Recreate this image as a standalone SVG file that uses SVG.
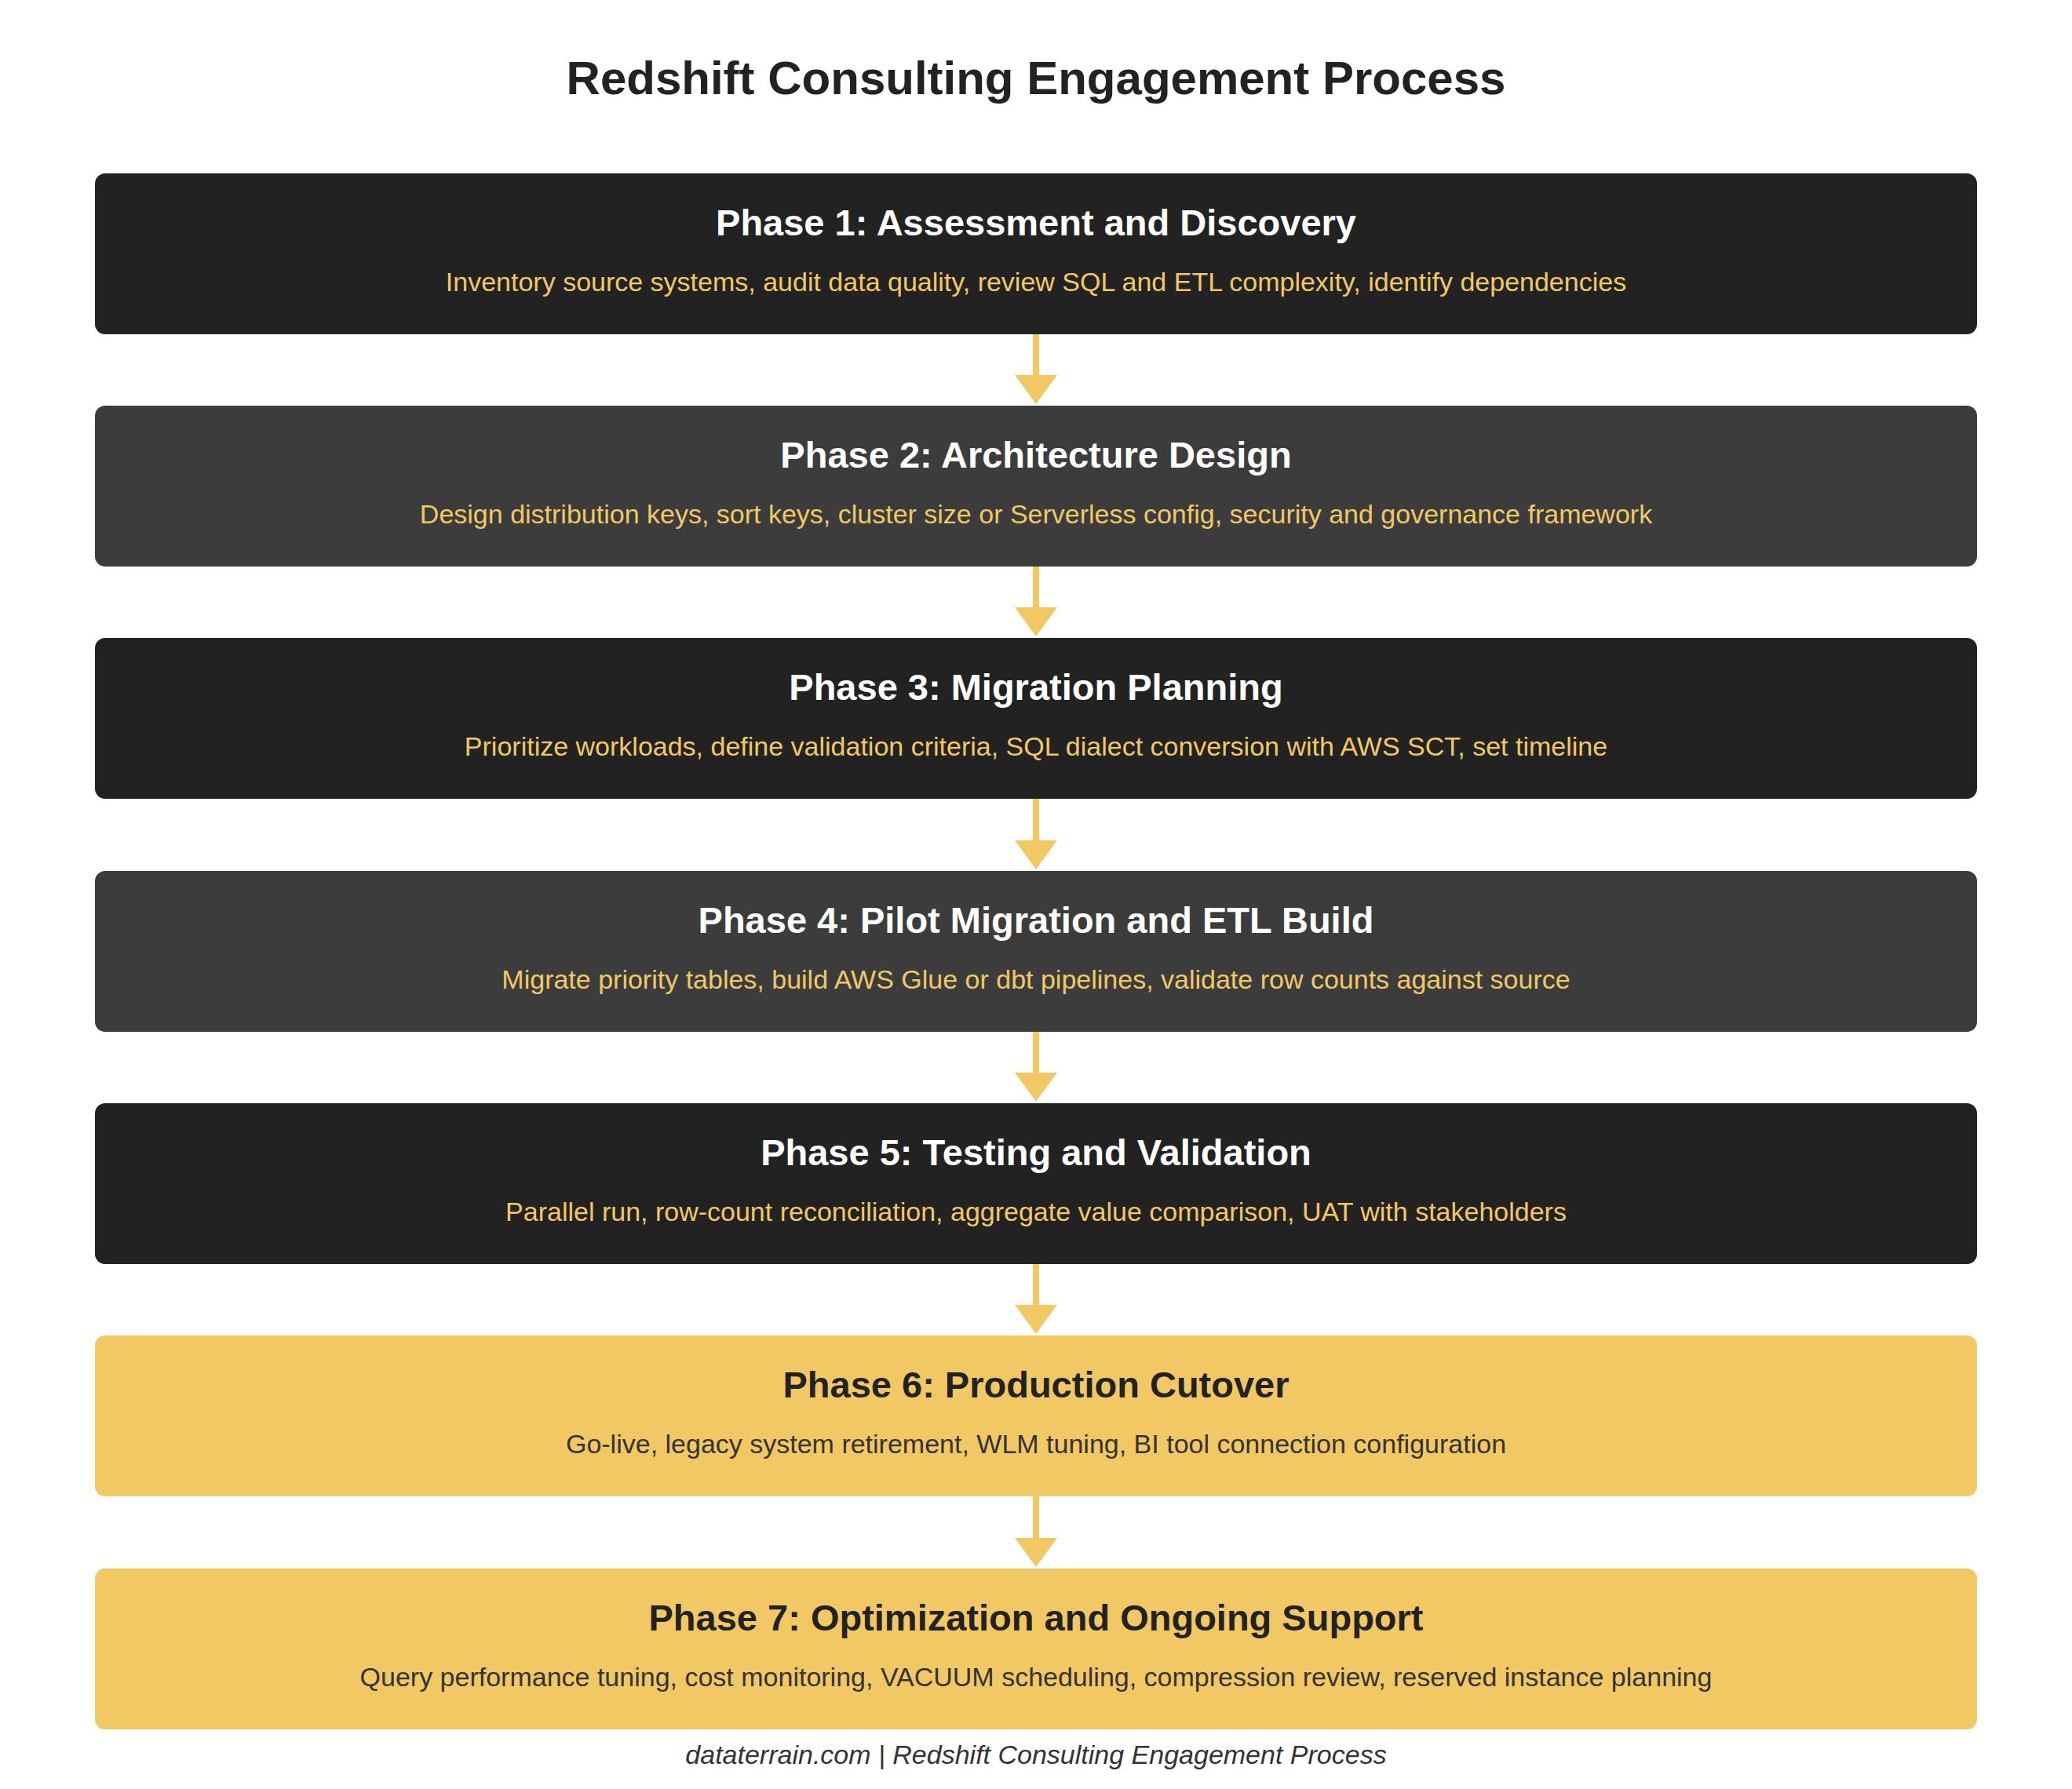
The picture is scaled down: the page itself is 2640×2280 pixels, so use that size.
<svg xmlns="http://www.w3.org/2000/svg" width="2640" height="2280" viewBox="0 0 2640 2280">
<style>
.t{font-family:"Liberation Sans",Arial,sans-serif;text-anchor:middle}
.h{font-size:47px;font-weight:bold}
.s{font-size:34px}
.dk{fill:#222222}.md{fill:#3c3c3c}.yl{fill:#f2c864}
.ln{stroke:#f2c864;stroke-width:8}
</style>
<rect width="2640" height="2280" fill="#fff"/>
<text class="t" x="1320" y="120" font-size="60" font-weight="bold" fill="#222">Redshift Consulting Engagement Process</text>
<g id="connectors">
<line class="ln" x1="1320" y1="426" x2="1320" y2="484"/><polygon class="yl" points="1293,478 1347,478 1320,515"/>
<line class="ln" x1="1320" y1="722" x2="1320" y2="780"/><polygon class="yl" points="1293,774 1347,774 1320,811"/>
<line class="ln" x1="1320" y1="1018" x2="1320" y2="1077"/><polygon class="yl" points="1293,1071 1347,1071 1320,1108"/>
<line class="ln" x1="1320" y1="1315" x2="1320" y2="1373"/><polygon class="yl" points="1293,1367 1347,1367 1320,1404"/>
<line class="ln" x1="1320" y1="1611" x2="1320" y2="1669"/><polygon class="yl" points="1293,1663 1347,1663 1320,1700"/>
<line class="ln" x1="1320" y1="1907" x2="1320" y2="1966"/><polygon class="yl" points="1293,1960 1347,1960 1320,1997"/>
</g>
<g id="p1"><rect class="dk" x="121" y="221" width="2398" height="205" rx="13"/>
<text class="t h" x="1320" y="300" fill="#fff">Phase 1: Assessment and Discovery</text>
<text class="t s" x="1320" y="371" fill="#f2c864">Inventory source systems, audit data quality, review SQL and ETL complexity, identify dependencies</text></g>
<g id="p2"><rect class="md" x="121" y="517" width="2398" height="205" rx="13"/>
<text class="t h" x="1320" y="596" fill="#fff">Phase 2: Architecture Design</text>
<text class="t s" x="1320" y="667" fill="#f2c864">Design distribution keys, sort keys, cluster size or Serverless config, security and governance framework</text></g>
<g id="p3"><rect class="dk" x="121" y="813" width="2398" height="205" rx="13"/>
<text class="t h" x="1320" y="892" fill="#fff">Phase 3: Migration Planning</text>
<text class="t s" x="1320" y="963" fill="#f2c864">Prioritize workloads, define validation criteria, SQL dialect conversion with AWS SCT, set timeline</text></g>
<g id="p4"><rect class="md" x="121" y="1110" width="2398" height="205" rx="13"/>
<text class="t h" x="1320" y="1189" fill="#fff">Phase 4: Pilot Migration and ETL Build</text>
<text class="t s" x="1320" y="1260" fill="#f2c864">Migrate priority tables, build AWS Glue or dbt pipelines, validate row counts against source</text></g>
<g id="p5"><rect class="dk" x="121" y="1406" width="2398" height="205" rx="13"/>
<text class="t h" x="1320" y="1485" fill="#fff">Phase 5: Testing and Validation</text>
<text class="t s" x="1320" y="1556" fill="#f2c864">Parallel run, row-count reconciliation, aggregate value comparison, UAT with stakeholders</text></g>
<g id="p6"><rect class="yl" x="121" y="1702" width="2398" height="205" rx="13"/>
<text class="t h" x="1320" y="1781" fill="#222">Phase 6: Production Cutover</text>
<text class="t s" x="1320" y="1852" fill="#333">Go-live, legacy system retirement, WLM tuning, BI tool connection configuration</text></g>
<g id="p7"><rect class="yl" x="121" y="1999" width="2398" height="205" rx="13"/>
<text class="t h" x="1320" y="2078" fill="#222">Phase 7: Optimization and Ongoing Support</text>
<text class="t s" x="1320" y="2149" fill="#333">Query performance tuning, cost monitoring, VACUUM scheduling, compression review, reserved instance planning</text></g>
<text class="t" x="1320" y="2248" font-size="34" font-style="italic" fill="#333">dataterrain.com | Redshift Consulting Engagement Process</text>
</svg>
